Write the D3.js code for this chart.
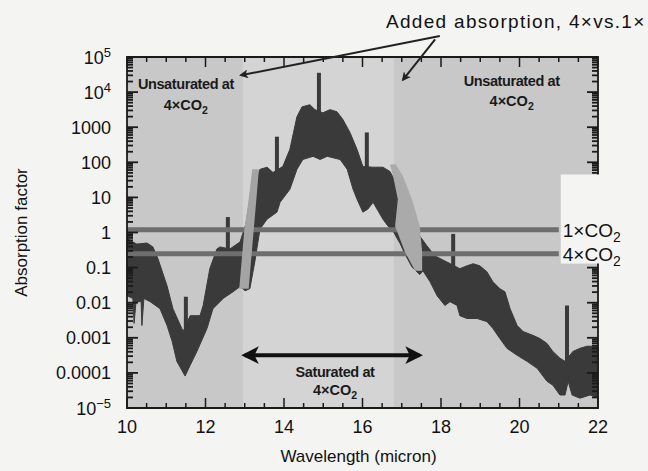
<!DOCTYPE html>
<html>
<head>
<meta charset="utf-8">
<script src="https://cdn.jsdelivr.net/npm/d3@7"></script>
</head>
<body style="margin:0;background:#f4f4f2">
<div id="wrapper"></div>
<script>
// wavelength (micron) and log10(absorption factor) of the band's upper edge
const upperWave = [10.00, 10.25, 10.51, 10.66, 10.79, 11.02, 11.17, 11.43, 11.61, 11.86, 11.94, 12.11, 12.29, 12.37, 12.62, 12.88,
  13.03, 13.11, 13.21, 13.39, 13.57, 13.72, 13.97, 14.15, 14.33, 14.46, 14.66, 14.79, 14.99, 15.17, 15.35, 15.50, 15.68, 15.86,
  16.01, 16.27, 16.52, 16.70, 16.78, 16.96, 17.08, 17.21, 17.34, 17.46, 17.64, 17.85, 18.15, 18.48, 18.66, 18.82, 18.99, 19.17,
  19.32, 19.50, 19.63, 19.76, 19.94, 20.09, 20.34, 20.52, 20.70, 20.85, 21.03, 21.16, 21.36, 21.54, 21.72, 22.00];
const upperLog = [-0.18, -0.33, -0.30, -0.41, -0.75, -1.52, -2.17, -2.82, -2.37, -2.37, -2.08, -1.03, -0.47, -0.41, -0.47, -0.27,
  0.24, 0.81, 1.32, 1.80, 1.86, 1.71, 1.88, 2.37, 3.30, 3.58, 3.64, 3.50, 3.41, 3.50, 3.44, 3.22, 2.85, 2.37,
  1.88, 1.86, 1.86, 1.74, 1.57, 1.46, 1.18, 0.81, 0.38, -0.10, -0.38, -0.67, -0.84, -1.03, -0.95, -0.89, -0.95, -1.12,
  -1.40, -1.60, -1.69, -2.17, -2.65, -2.82, -2.93, -3.02, -3.16, -3.39, -3.58, -3.67, -3.39, -3.30, -3.24, -3.24];

// lower edge of the band
const lowerWave = [10.00, 10.15, 10.18, 10.23, 10.36, 10.38, 10.43, 10.59, 10.84, 11.02, 11.15, 11.27, 11.48, 11.61, 11.78, 12.04,
  12.19, 12.45, 12.70, 12.88, 13.01, 13.13, 13.26, 13.34, 13.39, 13.57, 13.82, 13.90, 14.15, 14.33, 14.48, 14.74, 14.92, 15.10,
  15.43, 15.61, 15.76, 15.86, 16.01, 16.14, 16.27, 16.52, 16.65, 16.78, 16.96, 17.08, 17.26, 17.46, 17.54, 17.72, 17.90, 18.10,
  18.23, 18.41, 18.48, 18.66, 18.92, 19.17, 19.32, 19.50, 19.68, 19.94, 20.19, 20.45, 20.70, 20.85, 21.03, 21.16, 21.24, 21.34,
  21.54, 21.80, 22.00];
const lowerLog = [-1.80, -1.88, -2.59, -1.97, -1.97, -2.65, -1.88, -1.97, -2.17, -2.65, -3.10, -3.67, -4.09, -3.78, -3.39, -2.73,
  -2.17, -1.88, -1.69, -1.54, -1.66, -1.60, -0.81, -0.24, 0.10, 0.38, 0.58, 0.86, 1.23, 1.80, 2.08, 2.17, 2.08, 2.17,
  2.08, 1.80, 1.23, 0.95, 0.58, 0.67, 0.86, 0.38, 0.18, 0.04, -0.32, -0.61, -0.98, -1.20, -1.09, -1.40, -1.80, -2.08,
  -1.97, -2.08, -2.37, -2.45, -2.45, -2.54, -2.73, -3.02, -3.30, -3.50, -3.67, -3.87, -4.24, -4.35, -4.63, -4.63, -4.24, -4.63,
  -4.72, -4.63, -4.72];

// narrow absorption lines
const spikeWave = [11.50, 12.57, 13.82, 14.89, 16.11, 18.31, 21.21];
const spikeBase = [-3.00, -0.50, 1.70, 3.40, 1.80, -2.00, -4.20];
const spikeTop = [-1.83, 0.44, 2.73, 4.55, 2.85, -0.04, -2.08];

// added absorption between 1x and 4x CO2 (log10 level, wavelength left/right)
const addedLeftLog = [-1.60, -0.95, 0.10, 0.86, 1.80];
const addedLeftW0 = [12.86, 12.91, 12.99, 13.09, 13.19];
const addedLeftW1 = [13.10, 13.15, 13.23, 13.29, 13.36];
const addedRightLog = [-1.09, -0.55, 0.18, 0.95, 1.60, 1.94];
const addedRightW0 = [17.34, 17.08, 16.83, 16.90, 16.78, 16.70];
const addedRightW1 = [17.52, 17.52, 17.46, 17.26, 17.03, 16.85];

// saturation thresholds
const thresholdNames = ["1", "4"];
const thresholdValues = [1.2, 0.25];

const xTicks = [10, 12, 14, 16, 18, 20, 22];
const yTicks = [1e-5, 1e-4, 1e-3, 1e-2, 1e-1, 1, 10, 100, 1000, 1e4, 1e5];
const yTickLabels = [["10", "−5"], ["0.0001"], ["0.001"], ["0.01"], ["0.1"], ["1"], ["10"], ["100"], ["1000"], ["10", "4"], ["10", "5"]];
const saturatedRange = [12.95, 16.8];

const pageColor = "#f4f4f2";
const font = "Liberation Sans, Arial, Helvetica, sans-serif";

const dimensions = {
  width: 648,
  height: 471,
  margins: { top: 57, right: 50, bottom: 63, left: 127 },
};
dimensions.boundedWidth = dimensions.width - dimensions.margins.left - dimensions.margins.right;
dimensions.boundedHeight = dimensions.height - dimensions.margins.top - dimensions.margins.bottom;

const svg = d3.select("#wrapper").append("svg")
  .attr("width", dimensions.width)
  .attr("height", dimensions.height)
  .attr("font-family", font);

svg.append("rect")
  .attr("width", dimensions.width).attr("height", dimensions.height)
  .attr("fill", pageColor);

const bounds = svg.append("g")
  .attr("transform", `translate(${dimensions.margins.left},${dimensions.margins.top})`);

const xScale = d3.scaleLinear().domain([10, 22]).range([0, dimensions.boundedWidth]);
const yScale = d3.scaleLog().domain([1e-5, 1e5]).range([dimensions.boundedHeight, 0]);
const yL = (e) => yScale(Math.pow(10, e));

// plot background and lighter saturated zone
bounds.append("rect")
  .attr("width", dimensions.boundedWidth).attr("height", dimensions.boundedHeight)
  .attr("fill", "#c8c8c8");
bounds.append("rect")
  .attr("x", xScale(saturatedRange[0]))
  .attr("width", xScale(saturatedRange[1]) - xScale(saturatedRange[0]))
  .attr("height", dimensions.boundedHeight)
  .attr("fill", "#d4d4d4");

// absorption band
const upperPts = upperWave.map((w, i) => [w, upperLog[i]]);
const lowerPts = lowerWave.map((w, i) => [w, lowerLog[i]]).reverse();
const bandLine = d3.line().x(d => xScale(d[0])).y(d => yL(d[1]));
bounds.append("path")
  .attr("d", bandLine(upperPts.concat(lowerPts)) + "Z")
  .attr("fill", "#3a3a3a")
  .attr("stroke", "#3a3a3a")
  .attr("stroke-width", 1)
  .attr("stroke-linejoin", "round");

bounds.selectAll("rect.spike").data(spikeWave).join("rect")
  .attr("class", "spike")
  .attr("x", d => xScale(d) - 2)
  .attr("width", 4)
  .attr("y", (d, i) => yL(spikeTop[i]))
  .attr("height", (d, i) => yL(spikeBase[i]) - yL(spikeTop[i]))
  .attr("fill", "#3a3a3a");

// threshold lines
bounds.selectAll("line.thr").data(thresholdValues).join("line")
  .attr("class", "thr")
  .attr("x1", 0).attr("x2", xScale(21))
  .attr("y1", d => yScale(d)).attr("y2", d => yScale(d))
  .attr("stroke", "#6e6e6e")
  .attr("stroke-width", 5);

// added absorption stripes
const stripe = d3.area()
  .y(d => yL(d[0])).x0(d => xScale(d[1])).x1(d => xScale(d[2]));
bounds.append("path")
  .attr("d", stripe(addedLeftLog.map((v, i) => [v, addedLeftW0[i], addedLeftW1[i]])))
  .attr("fill", "#a4a4a4");
bounds.append("path")
  .attr("d", stripe(addedRightLog.map((v, i) => [v, addedRightW0[i], addedRightW1[i]])))
  .attr("fill", "#aaaaaa");

// open space behind the line labels
bounds.append("rect")
  .attr("x", xScale(21) + 2).attr("y", yScale(45))
  .attr("width", dimensions.boundedWidth - xScale(21) + 4)
  .attr("height", yScale(0.13) - yScale(45))
  .attr("fill", pageColor);

// frame and inward ticks (right side open behind the line labels)
const frame = bounds.append("g").attr("stroke", "#1a1a1a").attr("fill", "none");
frame.append("path")
  .attr("d", `M${dimensions.boundedWidth},${yScale(45)}V0H0V${dimensions.boundedHeight}H${dimensions.boundedWidth}V${yScale(0.13)}`)
  .attr("stroke-width", 1.8);

const xMinor = d3.range(10, 22.01, 0.5);
frame.selectAll("line.xb").data(xMinor).join("line")
  .attr("class", "xb")
  .attr("x1", d => xScale(d)).attr("x2", d => xScale(d))
  .attr("y1", dimensions.boundedHeight)
  .attr("y2", d => dimensions.boundedHeight - (d % 2 === 0 ? 10 : 5))
  .attr("stroke-width", 1.5);
frame.selectAll("line.xt").data(xMinor).join("line")
  .attr("class", "xt")
  .attr("x1", d => xScale(d)).attr("x2", d => xScale(d))
  .attr("y1", 0)
  .attr("y2", d => (d % 2 === 0 ? 10 : 5))
  .attr("stroke-width", 1.5);

const yMinor = [];
for (let p = -5; p < 5; p++) for (let k = 1; k < 10; k++) yMinor.push({ v: k * Math.pow(10, p), major: k === 1 });
yMinor.push({ v: 1e5, major: true });
frame.selectAll("line.yl").data(yMinor).join("line")
  .attr("class", "yl")
  .attr("x1", 0).attr("x2", d => (d.major ? 11 : 6))
  .attr("y1", d => yScale(d.v)).attr("y2", d => yScale(d.v))
  .attr("stroke-width", 1.8);
frame.selectAll("line.yr").data(yMinor.filter(d => d.v >= 45 || d.v <= 0.13)).join("line")
  .attr("class", "yr")
  .attr("x1", dimensions.boundedWidth).attr("x2", d => dimensions.boundedWidth - (d.major ? 11 : 6))
  .attr("y1", d => yScale(d.v)).attr("y2", d => yScale(d.v))
  .attr("stroke-width", 1.8);

// tick labels
bounds.selectAll("text.xlab").data(xTicks).join("text")
  .attr("class", "xlab")
  .attr("x", d => xScale(d)).attr("y", dimensions.boundedHeight + 25)
  .attr("text-anchor", "middle").attr("font-size", 18).attr("fill", "#111")
  .text(d => d);

const ylab = bounds.selectAll("text.ylab").data(yTicks).join("text")
  .attr("class", "ylab")
  .attr("x", -16).attr("y", d => yScale(d) + 6.5)
  .attr("text-anchor", "end").attr("font-size", 18).attr("fill", "#111");
ylab.each(function (d, i) {
  const parts = yTickLabels[i];
  const t = d3.select(this);
  t.append("tspan").text(parts[0]);
  if (parts.length > 1) t.append("tspan").attr("dy", -7).attr("font-size", 13).text(parts[1]);
});

// axis titles
svg.append("text")
  .attr("transform", `translate(27,${dimensions.margins.top + yScale(1)}) rotate(-90)`)
  .attr("text-anchor", "middle").attr("font-size", 17).attr("fill", "#111")
  .text("Absorption factor");
svg.append("text")
  .attr("x", dimensions.margins.left + xScale(16) - 4).attr("y", 462)
  .attr("text-anchor", "middle").attr("font-size", 17).attr("fill", "#111")
  .text("Wavelength (micron)");

// "n×CO" + subscript 2
function co2(sel, n, size, subSize) {
  sel.append("tspan").text(n + "×CO");
  sel.append("tspan").attr("dy", size * 0.3).attr("font-size", subSize).text("2");
}

// line labels
thresholdValues.forEach((v, i) => {
  const t = bounds.append("text")
    .attr("x", xScale(21) + 4).attr("y", yScale(v) + 7)
    .attr("font-size", 19).attr("fill", "#111");
  co2(t, thresholdNames[i], 19, 14);
});

// region labels
function regionLabel(cx, y1, y2, first) {
  const g = bounds.append("g").attr("font-weight", "bold").attr("font-size", 14.5).attr("fill", "#1a1a1a");
  g.append("text").attr("x", cx).attr("y", y1).attr("text-anchor", "middle")
    .attr("letter-spacing", -0.4).text(first);
  const t = g.append("text").attr("x", cx).attr("y", y2).attr("text-anchor", "middle");
  co2(t, "4", 14.5, 10.5);
}
regionLabel(xScale(11.5), 32, 53, "Unsaturated at");
regionLabel(xScale(19.8), 29, 49, "Unsaturated at");
regionLabel(xScale(15.3), 320, 338, "Saturated at");

// arrows
const defs = svg.append("defs");
defs.append("marker").attr("id", "bighead").attr("viewBox", "0 0 10 10")
  .attr("refX", 8).attr("refY", 5).attr("markerWidth", 6).attr("markerHeight", 4.4)
  .attr("orient", "auto-start-reverse")
  .append("path").attr("d", "M0,0 L10,5 L0,10 L2.5,5 Z").attr("fill", "#111");
defs.append("marker").attr("id", "smallhead").attr("viewBox", "0 0 10 10")
  .attr("refX", 8).attr("refY", 5).attr("markerWidth", 7).attr("markerHeight", 4.5)
  .attr("orient", "auto")
  .append("path").attr("d", "M0,0 L10,5 L0,10 L2.5,5 Z").attr("fill", "#222");

bounds.append("line")
  .attr("x1", xScale(13.0)).attr("x2", xScale(17.45))
  .attr("y1", yScale(3.2e-4)).attr("y2", yScale(3.2e-4))
  .attr("stroke", "#111").attr("stroke-width", 4)
  .attr("marker-start", "url(#bighead)").attr("marker-end", "url(#bighead)");

bounds.append("line")
  .attr("x1", xScale(17.97)).attr("y1", yL(5.6))
  .attr("x2", xScale(12.9)).attr("y2", yL(4.48))
  .attr("stroke", "#222").attr("stroke-width", 2).attr("marker-end", "url(#smallhead)");
bounds.append("line")
  .attr("x1", xScale(17.85)).attr("y1", yL(5.5))
  .attr("x2", xScale(17.03)).attr("y2", yL(4.35))
  .attr("stroke", "#222").attr("stroke-width", 2).attr("marker-end", "url(#smallhead)");

svg.append("text")
  .attr("x", 386).attr("y", 28)
  .attr("font-size", 19).attr("letter-spacing", 1.3).attr("fill", "#111")
  .text("Added absorption, 4×vs.1×");
</script>
</body>
</html>
